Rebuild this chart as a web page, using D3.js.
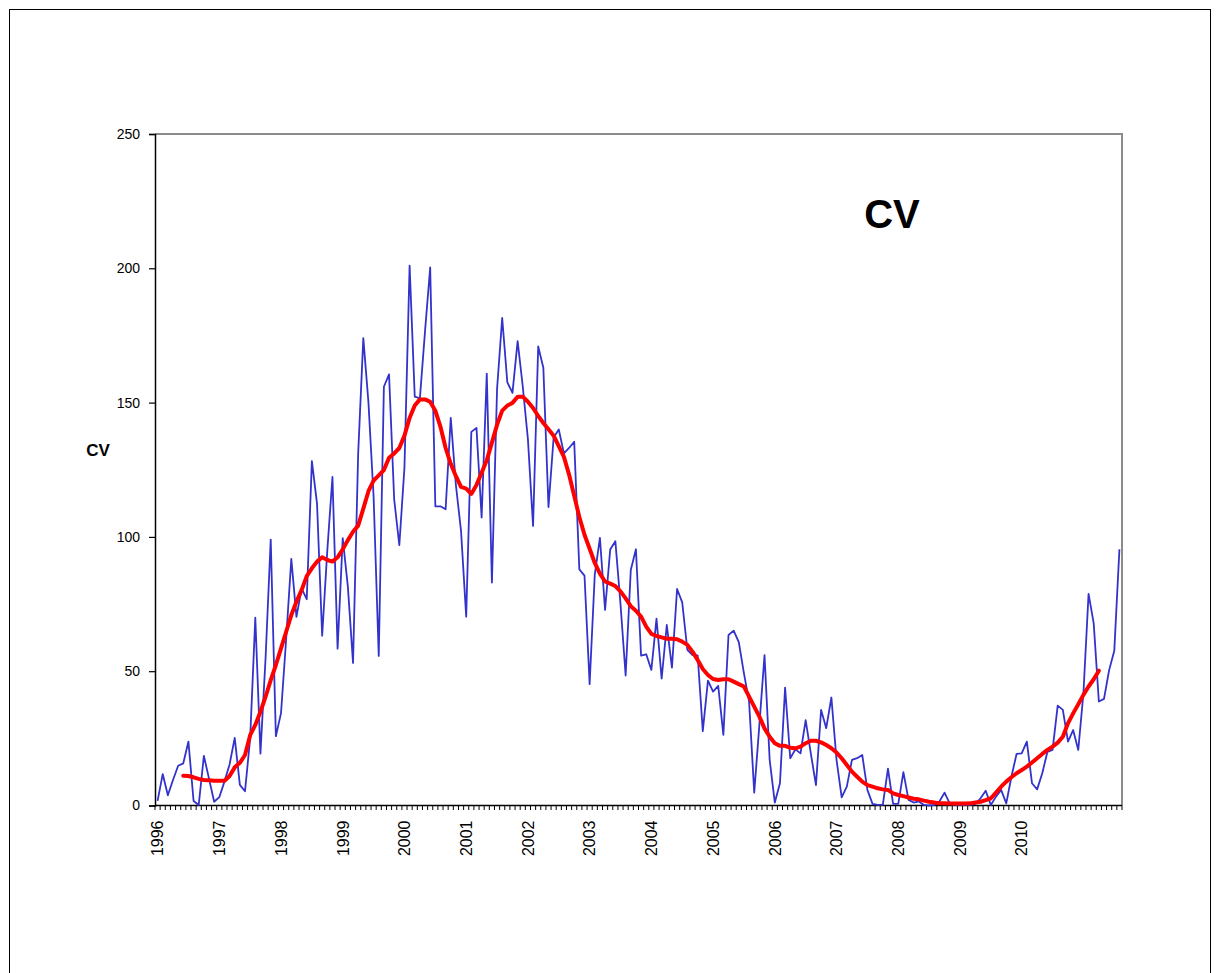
<!DOCTYPE html>
<html>
<head>
<meta charset="utf-8">
<script src="https://cdn.jsdelivr.net/npm/d3@7"></script>
<style>
  html, body { margin: 0; padding: 0; background: #fff; }
  svg { display: block; }
  text { font-family: "Liberation Sans", Arial, sans-serif; fill: #000; }
</style>
</head>
<body>
<svg id="chart" width="1221" height="973"></svg>
<script>
// Monthly values, Jan 1996 .. Aug 2011 (188 months)
const months = d3.range(188);
const yearLabels = ["1996","1997","1998","1999","2000","2001","2002","2003","2004","2005","2006","2007","2008","2009","2010"];
const yTicks = [0, 50, 100, 150, 200, 250];

const cvMonthly = [
  1.7, 11.7, 3.8, 9.5, 14.8, 15.7, 23.8, 1.7, 0.2, 18.5, 10, 1.4,
  3.1, 8.9, 15.3, 25.2, 7.7, 5.3, 25, 69.9, 19.3, 55, 99, 25.8,
  34.4, 62, 91.8, 70.2, 80.8, 76.8, 128.2, 112.4, 63.2, 95, 122.3, 58.4,
  99.5, 81.4, 53.1, 131, 174, 150, 115, 55.7, 155.9, 160.5, 114, 96.9,
  125.9, 201, 152.2, 151.6, 176.6, 200.3, 111.4, 111.4, 110.3, 144.3, 119.3, 102.2,
  70.3, 139.1, 140.6, 107.2, 160.8, 83.0, 155, 181.5, 157.5, 153.6, 172.9, 156,
  136.4, 104.1, 170.9, 163.0, 111.1, 137, 140.0, 131.1, 133.1, 135.4, 87.9, 85.6,
  45.2, 86, 99.6, 72.8, 95.3, 98.4, 75, 48.4, 87.7, 95.4, 55.8, 56.3,
  50.5, 69.6, 47.2, 67.2, 51.3, 80.6, 75.6, 57.9, 56.0, 55.9, 27.7, 46.5,
  42.4, 44.5, 26.3, 63.5, 65.1, 60.8, 49.2, 38.7, 4.8, 30, 56.0, 17.0,
  1.1, 8.3, 43.9, 17.6, 20.9, 19.4, 31.8, 19.4, 7.6, 35.6, 28.8, 40.2,
  17.0, 3.0, 7.0, 17.0, 17.6, 18.8, 5.8, 0.6, 0.2, 0.2, 13.7, 0.6,
  0.6, 12.4, 2.1, 1.1, 1.5, 0.2, 0, 0.2, 1.5, 4.8, 0.8, 0.2,
  0.2, 0.2, 0.2, 0.6, 2.7, 5.5, 0.2, 3.3, 5.8, 0.8, 10.7, 19.2,
  19.4, 23.8, 8.3, 6.0, 12.0, 20.0, 20.7, 37.2, 35.6, 23.8, 28.1, 20.7,
  41.8, 78.8, 67.8, 38.7, 39.7, 50.4, 57.6, 95.4
];

// Smoothed series, defined from month index 5 to 183
const smoothStart = 5;
const cvSmoothed = [
  11.1, 11.0, 10.5, 9.9, 9.5, 9.4, 9.2, 9.2, 9.2, 11.0, 14.2, 15.9,
  18.8, 26.2, 30.0, 34.9, 40.5, 46.7, 52.3, 58.5, 64.7, 70.9, 75.9, 80.2,
  85.4, 88.3, 90.8, 92.4, 91.4, 90.8, 92.4, 95.4, 98.8, 101.9, 104.2, 110.5,
  117, 121, 122.9, 124.9, 129.5, 131.1, 133.1, 137.7, 144.3, 148.9, 151.2, 151.2,
  150.3, 147.0, 141.0, 133.1, 127.2, 122.6, 118.6, 118.0, 116.0, 119.3, 123.9, 128.5,
  135.1, 141.7, 147.0, 148.9, 149.9, 152.2, 152.2, 150.3, 148.0, 145.0, 142.4, 140.1,
  137.7, 133.8, 129.8, 123.2, 115.3, 107.4, 100.8, 95.6, 90.3, 86.3, 83.4, 82.6,
  81.7, 79.7, 77.1, 74.2, 72.5,
  70.3, 66.6, 63.9, 63.1, 62.6, 62.1, 62.1, 61.9, 61.0, 59.8, 57.3, 54.2,
  50.8, 48.6, 47.1, 46.7, 47.0, 47.0, 46.1, 45.2, 44.3, 40.5, 36.8, 33.1,
  28.7, 25.6, 23.2, 22.2, 22.2, 21.5, 21.3, 21.9, 23.2, 24.1, 24.1, 23.5,
  22.5, 21.3, 19.7, 17.6, 15.1, 12.6, 10.7, 8.9, 7.6, 7.0, 6.4, 6.0,
  5.8, 4.5, 3.9, 3.5, 3.0, 2.5, 2.3, 1.8, 1.4, 1.1, 0.8, 0.8,
  0.7, 0.7, 0.7, 0.7, 0.8, 1.1, 1.4, 2.0, 2.7, 4.8, 7.0, 8.9,
  10.5, 12.0, 13.2, 14.5, 16.0, 17.6, 19.2, 20.7, 21.9, 23.4, 25.6, 30.6,
  34.3, 37.7, 41.2, 44.3, 47.0, 50.2
];

const svg = d3.select("#chart");

// outer chart border
svg.append("rect")
  .attr("x", 9.5).attr("y", 9.5)
  .attr("width", 1201).attr("height", 990)
  .attr("fill", "none").attr("stroke", "#000").attr("stroke-width", 1);

const plot = { left: 155, right: 1122, top: 134, bottom: 805.5 };

const x = d3.scaleBand().domain(months).range([plot.left, plot.right]).padding(0);
const cx = i => x(i) + x.bandwidth() / 2;
const y = d3.scaleLinear().domain([0, 250]).range([plot.bottom, plot.top]);

// plot frame top/right (grey)
svg.append("path")
  .attr("d", `M${plot.left},${plot.top}H${plot.right}V${plot.bottom}`)
  .attr("fill", "none").attr("stroke", "#8c8c8c").attr("stroke-width", 2);

// y axis
const yAxis = d3.axisLeft(y).tickValues(yTicks).tickSize(6).tickPadding(9);
const gy = svg.append("g").attr("transform", `translate(${plot.left},0)`).call(yAxis);
gy.select(".domain").attr("stroke", "#000").attr("stroke-width", 1.5);
gy.selectAll(".tick line").attr("stroke", "#000").attr("stroke-width", 1.2);
gy.selectAll(".tick text").attr("font-size", 14).attr("font-family", "Liberation Sans, Arial, sans-serif").attr("fill", "#000");

// x axis: monthly tick marks at category boundaries
const xTickPos = d3.range(months.length + 1).map(k => plot.left + k * x.step());
const gx = svg.append("g");
gx.selectAll("line.mt").data(xTickPos).join("line")
  .attr("x1", d => d).attr("x2", d => d)
  .attr("y1", plot.bottom).attr("y2", plot.bottom + 4.5)
  .attr("stroke", "#000").attr("stroke-width", 1);
gx.append("line")
  .attr("x1", plot.left).attr("x2", plot.right)
  .attr("y1", plot.bottom).attr("y2", plot.bottom)
  .attr("stroke", "#000").attr("stroke-width", 1.5);

gx.selectAll("text.yl").data(yearLabels).join("text")
  .attr("class", "yl")
  .attr("transform", (d, k) => `translate(${cx(k * 12)},${plot.bottom + 15}) rotate(-90)`)
  .attr("text-anchor", "end")
  .attr("dy", "0.36em")
  .attr("font-size", 16)
  .text(d => d);

// blue monthly line
const line = d3.line().x(d => cx(d[0])).y(d => y(d[1]));
svg.append("path")
  .datum(cvMonthly.map((v, i) => [i, v]))
  .attr("d", line)
  .attr("fill", "none").attr("stroke", "#3333cc").attr("stroke-width", 1.8)
  .attr("stroke-linejoin", "round");

// red smoothed line
svg.append("path")
  .datum(cvSmoothed.map((v, k) => [k + smoothStart, v]))
  .attr("d", line)
  .attr("fill", "none").attr("stroke", "#ff0000").attr("stroke-width", 4)
  .attr("stroke-linejoin", "round").attr("stroke-linecap", "round");

// axis title
svg.append("text")
  .attr("x", 98).attr("y", 450).attr("dy", "0.36em")
  .attr("text-anchor", "middle")
  .attr("font-size", 17).attr("font-weight", "bold")
  .text("CV");

// chart title inside plot
svg.append("text")
  .attr("x", 892).attr("y", 228)
  .attr("text-anchor", "middle")
  .attr("font-size", 40).attr("font-weight", "bold")
  .text("CV");
</script>
</body>
</html>
